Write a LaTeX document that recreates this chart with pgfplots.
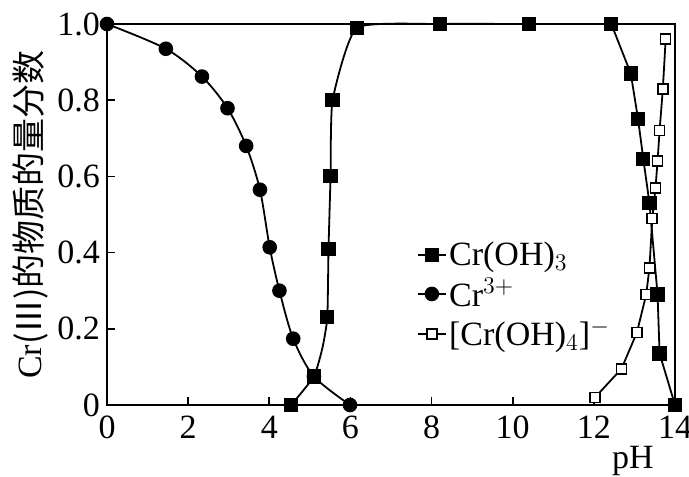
\documentclass[border=0pt]{standalone}
\usepackage{fontspec}
\setmainfont{Liberation Serif}
\newfontfamily\cjk{Noto Sans CJK SC}
\usepackage{pgfplots}
\pgfplotsset{compat=1.18}

\newcommand{\chartfont}{\fontsize{17}{19}\selectfont}

\begin{document}
\begin{tikzpicture}
\begin{axis}[
  name=ax,
  scale only axis,
  width=284pt, height=190.5pt,
  xmin=0, xmax=14, ymin=0, ymax=1,
  clip=false,
  axis line style={line width=0.9pt},
  tick pos=left, tick align=inside,
  major tick length=4pt,
  tick style={line width=0.8pt, black},
  xtick={0,2,4,6,8,10,12,14},
  ytick={0,0.2,0.4,0.6,0.8,1.0},
  yticklabels={0,0.2,0.4,0.6,0.8,1.0},
  /pgf/number format/assume math mode=true,
  every tick label/.append style={font=\chartfont},
  xticklabel style={yshift=-2pt},
  legend cell align=left,
  legend style={draw=none, fill=none, font=\chartfont,
    at={(rel axis cs:0.545,0.435)}, anchor=north west,
    inner sep=0pt, row sep=2.5pt,
    nodes={inner sep=1.2pt}},
  legend image code/.code={%
    \draw[mark repeat=2, mark phase=2] plot coordinates {(0pt,0pt) (7pt,0pt) (14pt,0pt)};},
]
% Cr(OH)3 : rising branch and plateau (the 3rd point only shapes the curve)
\addplot[black, line width=0.9pt, smooth, tension=0.3,
  mark=square*, mark size=3.1pt, mark options={fill=black, solid},
  mark indices={1,2,4,5,6,7,8,9,10,11},
  legend image post style={mark indices={2}}]
  coordinates {
  (4.54,0) (5.10,0.075) (5.31,0.15) (5.43,0.23) (5.46,0.41) (5.51,0.60) (5.56,0.80)
  (6.16,0.99) (8.2,1.0) (10.4,1.0) (12.43,1.0)
  };
\addlegendentry{Cr(OH)$_3$}
% Cr3+
\addplot[black, line width=0.9pt, smooth, tension=0.5,
  mark=*, mark size=3.2pt, mark options={fill=black}]
  coordinates {
  (0,1.0) (1.45,0.935) (2.34,0.862) (2.97,0.779) (3.43,0.68) (3.77,0.565)
  (4.01,0.414) (4.25,0.30) (4.59,0.174) (5.10,0.075) (5.99,0)
  };
\addlegendentry{Cr$^{3+}$}
% [Cr(OH)4]-
\addplot[black, line width=0.9pt,
  mark=square*, mark size=2.5pt, mark options={fill=white, line width=0.8pt}]
  coordinates {
  (12.03,0.02) (12.68,0.095) (13.06,0.19) (13.29,0.29) (13.37,0.36)
  (13.44,0.49) (13.52,0.57) (13.57,0.64) (13.62,0.72) (13.70,0.83) (13.77,0.96)
  };
\addlegendentry{[Cr(OH)$_4$]$^{-}$}
% Cr(OH)3 : dissolving branch at high pH
\addplot[black, line width=0.9pt, forget plot,
  mark=square*, mark size=3.1pt, mark options={fill=black}]
  coordinates {
  (12.43,1.0) (12.91,0.87) (13.09,0.75) (13.22,0.645) (13.37,0.53)
  (13.57,0.29) (13.62,0.135) (14.0,0)
  };
\end{axis}
\node[rotate=90, font=\chartfont] at ([xshift=-38.5pt]ax.west)
  {Cr{\cjk (Ⅲ)的物质的量分数}};
\node[font=\chartfont, anchor=north, inner sep=0pt] at ([xshift=-21pt,yshift=-20.5pt]ax.south east) {pH};
\pgfresetboundingbox
\path[use as bounding box] ([shift={(-53.5pt,-35.5pt)}]ax.south west)
  rectangle ([shift={(7pt,12pt)}]ax.north east);
\end{tikzpicture}
\end{document}
